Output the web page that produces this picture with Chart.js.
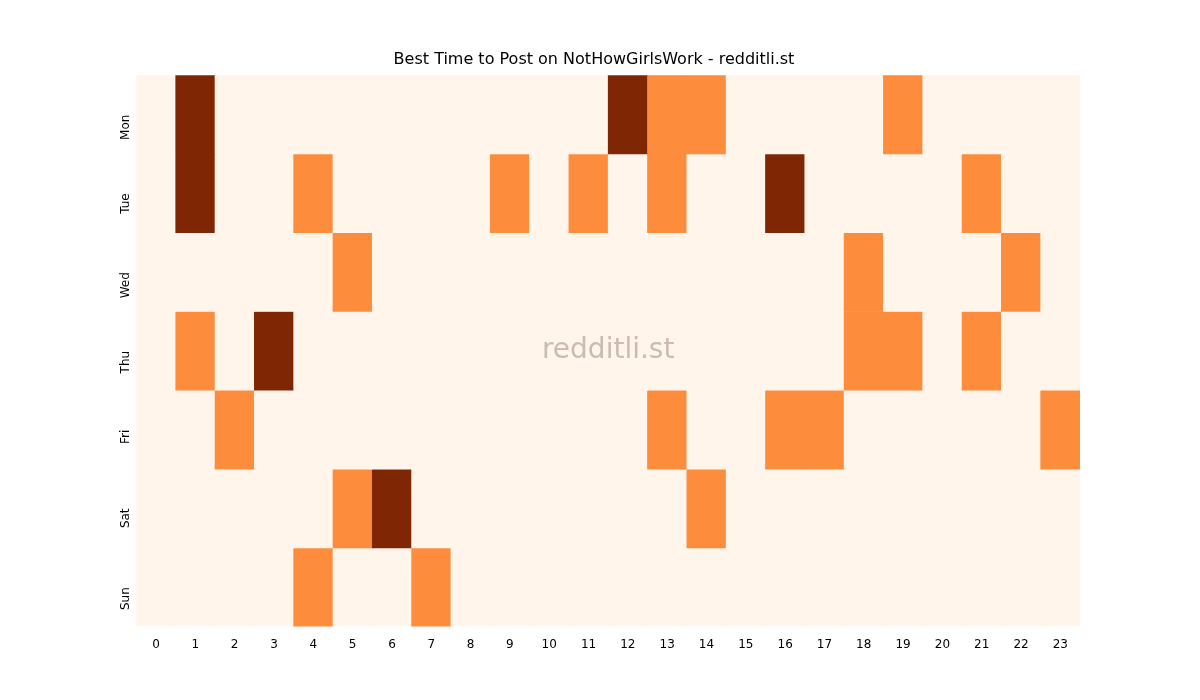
<!DOCTYPE html>
<html><head><meta charset="utf-8">
<script src="https://cdn.jsdelivr.net/npm/chart.js@4"></script>
<style>html,body{margin:0;background:#fff}#w{width:1200px;height:700px}</style>
</head><body><div id="w"><canvas id="c"></canvas></div>
<script>
const hours = Array.from({length:24},(_,i)=>String(i));
const days = ["Mon","Tue","Wed","Thu","Fri","Sat","Sun"];
const mon = [0,2,0,0,0,0,0,0,0,0,0,0,2,1,1,0,0,0,0,1,0,0,0,0];
const tue = [0,2,0,0,1,0,0,0,0,1,0,1,0,1,0,0,2,0,0,0,0,1,0,0];
const wed = [0,0,0,0,0,1,0,0,0,0,0,0,0,0,0,0,0,0,1,0,0,0,1,0];
const thu = [0,1,0,2,0,0,0,0,0,0,0,0,0,0,0,0,0,0,1,1,0,1,0,0];
const fri = [0,0,1,0,0,0,0,0,0,0,0,0,0,1,0,0,1,1,0,0,0,0,0,1];
const sat = [0,0,0,0,0,1,2,0,0,0,0,0,0,0,1,0,0,0,0,0,0,0,0,0];
const sun = [0,0,0,0,1,0,0,1,0,0,0,0,0,0,0,0,0,0,0,0,0,0,0,0];
const grid = [mon,tue,wed,thu,fri,sat,sun];
const palette = ["#fff5eb","#fd8d3c","#7f2704"];
const datasets = grid.map((row,d)=>({
  label: days[d],
  data: row.map(()=>[d,d+1]),
  backgroundColor: row.map(v=>palette[v]),
  borderWidth:0, barPercentage:1, categoryPercentage:1, grouped:false
}));
const watermark = {id:'wm', afterDatasetsDraw(ch){const a=ch.chartArea,c=ch.ctx;c.save();c.font='28px "DejaVu Sans"';c.fillStyle='rgba(160,140,130,0.55)';c.textAlign='center';c.textBaseline='middle';c.fillText('redditli.st',(a.left+a.right)/2,(a.top+a.bottom)/2);c.restore();}};
new Chart(document.getElementById('c'),{
  type:'bar',
  data:{labels:hours,datasets},
  plugins:[watermark],
  options:{
    responsive:true,maintainAspectRatio:false,animation:false,
    layout:{padding:{left:108,right:120,top:50,bottom:45}},
    plugins:{legend:{display:false},tooltip:{enabled:false},
      title:{display:true,text:'Best Time to Post on NotHowGirlsWork - redditli.st',color:'#000',font:{family:'DejaVu Sans',size:16,weight:'normal'},padding:{top:0,bottom:6}}},
    scales:{
      x:{grid:{display:false},border:{display:false},ticks:{color:'#000',font:{family:'DejaVu Sans',size:12},maxRotation:0,autoSkip:false}},
      y:{type:'linear',min:0,max:7,reverse:true,grid:{display:false},border:{display:false},
        afterBuildTicks(s){s.ticks=days.map((_,i)=>({value:i+0.5}));},
        ticks:{color:'#000',font:{family:'DejaVu Sans',size:12},minRotation:90,maxRotation:90,callback:(v)=>days[Math.floor(v)]}}
    }
  }
});
</script></body></html>
